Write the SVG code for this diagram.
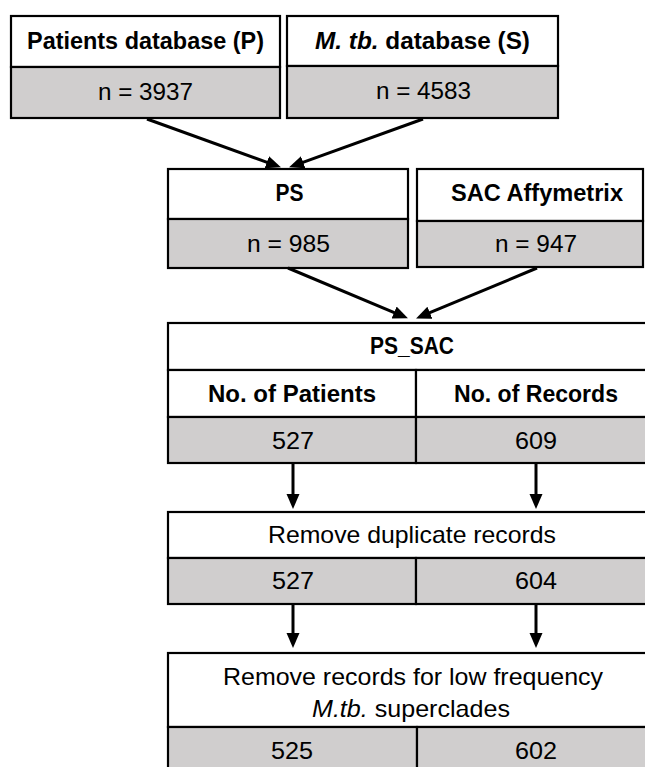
<svg xmlns="http://www.w3.org/2000/svg" width="645" height="767" viewBox="0 0 645 767">
<style>
.hd{fill:#ffffff;stroke:#000;stroke-width:2.2}
.gr{fill:#d0cece;stroke:#000;stroke-width:2.2}
.t{font-family:"Liberation Sans",Arial,sans-serif;font-size:24px;fill:#000;text-anchor:middle}
.b{font-weight:bold}
.conn line{stroke:#000;stroke-width:3}
</style>
<defs>
<marker id="ah" markerUnits="userSpaceOnUse" markerWidth="16" markerHeight="14" refX="4" refY="6.5" orient="auto">
<path d="M0,0 L15,6.5 L0,13 z" fill="#000"/>
</marker>
</defs>
<rect width="645" height="767" fill="#fff"/>

<g id="patients">
<rect class="hd" x="11" y="16" width="269" height="51"/>
<rect class="gr" x="11" y="67" width="269" height="51"/>
<text class="t b" x="145.5" y="49" textLength="237" lengthAdjust="spacingAndGlyphs">Patients database (P)</text>
<text class="t" x="145.5" y="100" textLength="95" lengthAdjust="spacingAndGlyphs">n = 3937</text>
</g>

<g id="mtb">
<rect class="hd" x="287" y="16" width="271" height="50"/>
<rect class="gr" x="287" y="66" width="271" height="52"/>
<text class="t b" x="422.5" y="49" textLength="215" lengthAdjust="spacingAndGlyphs"><tspan font-style="italic">M. tb.</tspan> database (S)</text>
<text class="t" x="423.5" y="99" textLength="95" lengthAdjust="spacingAndGlyphs">n = 4583</text>
</g>

<g id="ps">
<rect class="hd" x="168" y="169" width="240" height="50"/>
<rect class="gr" x="168" y="219" width="240" height="49"/>
<text class="t b" x="289.5" y="201" textLength="28" lengthAdjust="spacingAndGlyphs">PS</text>
<text class="t" x="288.5" y="252" textLength="83" lengthAdjust="spacingAndGlyphs">n = 985</text>
</g>

<g id="sac">
<rect class="hd" x="417" y="169" width="226" height="52"/>
<rect class="gr" x="417" y="221" width="226" height="46"/>
<text class="t b" x="537" y="201" textLength="172" lengthAdjust="spacingAndGlyphs">SAC Affymetrix</text>
<text class="t" x="536" y="252" textLength="82" lengthAdjust="spacingAndGlyphs">n = 947</text>
</g>

<g id="ps_sac">
<rect class="hd" x="168" y="323" width="500" height="47"/>
<rect class="hd" x="168" y="370" width="248" height="47"/>
<rect class="hd" x="416" y="370" width="252" height="47"/>
<rect class="gr" x="168" y="417" width="248" height="46"/>
<rect class="gr" x="416" y="417" width="252" height="46"/>
<text class="t b" x="412" y="354" textLength="84" lengthAdjust="spacingAndGlyphs">PS_SAC</text>
<text class="t b" x="292" y="402" textLength="168" lengthAdjust="spacingAndGlyphs">No. of Patients</text>
<text class="t b" x="536" y="402" textLength="164" lengthAdjust="spacingAndGlyphs">No. of Records</text>
<text class="t" x="293" y="449" textLength="42" lengthAdjust="spacingAndGlyphs">527</text>
<text class="t" x="536" y="449" textLength="42" lengthAdjust="spacingAndGlyphs">609</text>
</g>

<g id="dedup">
<rect class="hd" x="168" y="512" width="500" height="46"/>
<rect class="gr" x="168" y="558" width="248" height="46"/>
<rect class="gr" x="416" y="558" width="252" height="46"/>
<text class="t" x="412" y="543" textLength="288" lengthAdjust="spacingAndGlyphs">Remove duplicate records</text>
<text class="t" x="293" y="589" textLength="42" lengthAdjust="spacingAndGlyphs">527</text>
<text class="t" x="536" y="589" textLength="42" lengthAdjust="spacingAndGlyphs">604</text>
</g>

<g id="lowfreq">
<rect class="hd" x="168" y="653" width="500" height="74"/>
<rect class="gr" x="168" y="727" width="249" height="50"/>
<rect class="gr" x="417" y="727" width="251" height="50"/>
<text class="t" x="413" y="685" textLength="380" lengthAdjust="spacingAndGlyphs">Remove records for low frequency</text>
<text class="t" x="411" y="717" textLength="198" lengthAdjust="spacingAndGlyphs"><tspan font-style="italic">M.tb.</tspan> superclades</text>
<text class="t" x="292" y="759" textLength="42" lengthAdjust="spacingAndGlyphs">525</text>
<text class="t" x="536" y="759" textLength="42" lengthAdjust="spacingAndGlyphs">602</text>
</g>

<g id="connectors" class="conn">
<line x1="147" y1="119" x2="270.6" y2="163.6" marker-end="url(#ah)"/>
<line x1="423" y1="119" x2="299.4" y2="163.6" marker-end="url(#ah)"/>
<line x1="288" y1="268" x2="397.8" y2="314.1" marker-end="url(#ah)"/>
<line x1="537" y1="268" x2="426.2" y2="314.2" marker-end="url(#ah)"/>
<line x1="293" y1="463" x2="293" y2="498" marker-end="url(#ah)"/>
<line x1="536" y1="463" x2="536" y2="498" marker-end="url(#ah)"/>
<line x1="293" y1="604" x2="293" y2="637" marker-end="url(#ah)"/>
<line x1="536" y1="604" x2="536" y2="637" marker-end="url(#ah)"/>
</g>
</svg>
